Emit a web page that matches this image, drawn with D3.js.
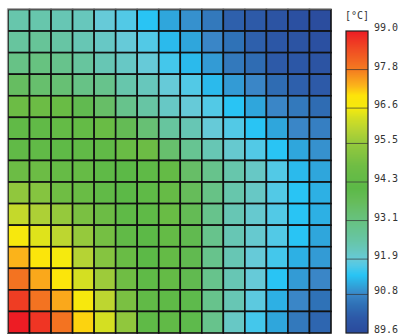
<!DOCTYPE html>
<html><head><meta charset="utf-8">
<script src="https://cdn.jsdelivr.net/npm/d3@7"></script>
<style>html,body{margin:0;padding:0;background:#fff;}svg{display:block;}</style>
</head><body><svg id="c" width="401" height="335"></svg>
<script>
const columns = d3.range(15);
const rows = d3.range(15);
const values = [
 [92.4,92.4,92.3,92.2,91.9,91.7,91.4,91.1,90.9,90.6,90.2,90.1,89.9,89.8,89.7],
 [92.6,92.7,92.5,92.3,92.1,91.9,91.7,91.3,91.1,90.8,90.5,90.2,90.0,89.9,89.8],
 [93.0,93.1,92.9,92.6,92.3,92.1,91.9,91.6,91.3,91.0,90.6,90.4,90.1,90.0,89.9],
 [93.6,93.4,93.3,93.0,92.9,92.4,92.2,91.9,91.7,91.3,91.0,90.8,90.4,90.2,90.1],
 [94.7,94.7,94.6,93.9,93.5,92.9,92.5,92.1,91.9,91.7,91.4,91.1,90.8,90.6,90.4],
 [94.3,94.3,94.4,94.4,94.6,93.8,93.3,92.6,92.3,91.9,91.7,91.4,91.1,90.8,90.7],
 [94.3,94.3,94.2,94.3,94.3,94.6,94.7,93.4,92.8,92.3,92.0,91.7,91.4,91.1,90.9],
 [94.7,94.7,94.5,94.5,94.2,94.1,94.2,94.4,93.5,92.9,92.4,92.1,91.7,91.3,91.1],
 [95.4,95.2,94.8,94.6,94.3,94.1,94.2,94.5,93.7,93.0,92.4,92.1,91.7,91.4,91.2],
 [96.1,95.8,95.5,95.0,94.7,94.2,94.2,94.6,93.8,92.9,92.3,92.0,91.7,91.4,91.2],
 [96.7,96.4,96.0,95.5,94.9,94.3,94.1,94.4,93.9,92.9,92.3,92.0,91.7,91.4,91.1],
 [97.3,96.9,96.6,95.9,95.2,94.6,94.1,94.4,93.9,92.9,92.3,91.9,91.6,91.2,91.0],
 [97.9,97.4,96.9,96.3,95.6,94.8,94.2,94.4,93.9,92.9,92.3,91.9,91.4,91.0,90.8],
 [98.6,97.9,97.4,96.7,96.0,95.0,94.3,94.2,94.0,92.9,92.3,91.8,91.2,90.8,90.5],
 [99.0,98.7,97.9,97.1,96.3,95.4,94.2,94.3,94.0,92.9,92.1,91.6,91.1,90.6,90.3]
];
const tickValues = [89.6,90.8,91.9,93.1,94.3,95.5,96.6,97.8,99.0];
const tickLabels = ["89.6","90.8","91.9","93.1","94.3","95.5","96.6","97.8","99.0"];
const unitLabel = "[°C]";
const colorStops = [89.6,90.1,90.5,90.8,91.1,91.4,91.7,91.9,92.2,92.5,92.9,93.3,93.7,94.1,94.5,94.8,95.1,95.5,95.9,96.3,96.6,97.0,97.3,97.8,98.4,99.0];
const colorRange = ["#2a4a9c","#2d5aa8","#2f72b7","#3a86c7","#2fa6dc","#29c4f4","#52c9e6","#66cad8","#67c7bc","#67c5a4","#67c38c","#67c074","#66bc5a","#5cb947","#66bb46","#6fbd44","#80c241","#95c93c","#b5d334","#d4df22","#f5ea0e","#fde30a","#fbb31a","#f47b20","#f04e23","#ed1c24"];

const color = d3.scaleLinear().domain(colorStops).range(colorRange).interpolate(d3.interpolateRgb).clamp(true);
const svg = d3.select("#c");
const x = d3.scaleBand().domain(columns).range([8, 331]);
const y = d3.scaleBand().domain(rows).range([9.5, 333]);

const cells = [];
rows.forEach(r => columns.forEach(c => cells.push({r, c, v: values[r][c]})));
svg.append("g").selectAll("rect").data(cells).join("rect")
  .attr("x", d => x(d.c)).attr("y", d => y(d.r))
  .attr("width", x.bandwidth()).attr("height", y.bandwidth())
  .attr("fill", d => color(d.v))
  .attr("stroke", "#111").attr("stroke-width", 1.6);
// outer light edges top/left
svg.append("line").attr("x1", 7.5).attr("x2", 331).attr("y1", 9).attr("y2", 9).attr("stroke", "#9a9a9a").attr("stroke-width", 1.2);
svg.append("line").attr("x1", 7.5).attr("x2", 7.5).attr("y1", 9).attr("y2", 333).attr("stroke", "#9a9a9a").attr("stroke-width", 1.2);

// colorbar
const cy = d3.scaleLinear().domain([89.6, 99.0]).range([333, 31]);
const cbX = 346, cbW = 22;
const steps = d3.range(0, 302);
svg.append("g").selectAll("rect").data(steps).join("rect")
  .attr("x", cbX).attr("width", cbW)
  .attr("y", i => 31 + i).attr("height", 1.2)
  .attr("fill", i => color(cy.invert(31 + i + 0.5)));
svg.append("g").selectAll("line").data(tickValues.slice(1, -1)).join("line")
  .attr("x1", cbX).attr("x2", cbX + cbW)
  .attr("y1", d => cy(d)).attr("y2", d => cy(d))
  .attr("stroke", "#333").attr("stroke-opacity", 0.7).attr("stroke-width", 1);
svg.append("rect").attr("x", cbX).attr("y", 31).attr("width", cbW).attr("height", 302)
  .attr("fill", "none").attr("stroke", "#222").attr("stroke-width", 1.2);
svg.append("g").selectAll("text").data(tickValues).join("text")
  .attr("x", 374).attr("y", d => cy(d) - 3)
  .attr("dominant-baseline", "middle")
  .attr("font-family", "DejaVu Sans Mono").attr("font-size", 10).attr("fill", "#333")
  .text((d, i) => tickLabels[i]);
svg.append("text").attr("x", 345).attr("y", 16).attr("dominant-baseline", "middle")
  .attr("font-family", "DejaVu Sans Mono").attr("font-size", 10).attr("fill", "#333")
  .text(unitLabel);
</script></body></html>
